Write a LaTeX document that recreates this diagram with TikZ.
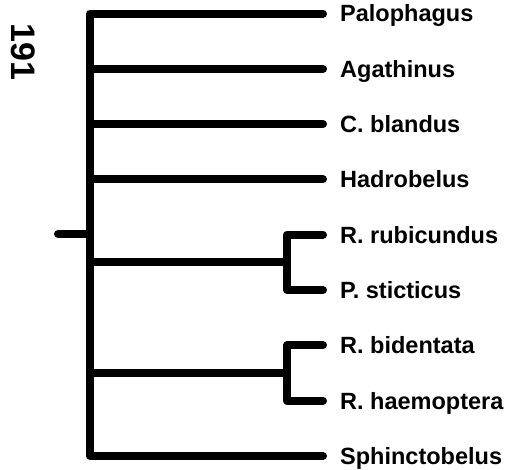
\documentclass[tikz,border=0pt]{standalone}
\usepackage{fontspec}
\setmainfont{Liberation Sans}
\usetikzlibrary{positioning}

\begin{document}
\begin{tikzpicture}[x=1pt, y=-1pt,
    branch/.style={line width=8pt, line cap=round, line join=round},
    taxon/.style={font=\fontsize{23.5}{28}\selectfont\bfseries, inner sep=0pt,
                  text height=16.8pt, text depth=0pt}]
    \useasboundingbox (0,0) rectangle (508,469);
    % inner nodes of the tree
    \coordinate (root)   at (90,234);
    \coordinate (stub)   at (58,234);
    \coordinate (cladeA) at (287,262);
    \coordinate (cladeB) at (287,373);
    % tips of the branches
    \coordinate (tPalo) at (323,13.5);
    \coordinate (tAgat) at (323,68.8);
    \coordinate (tBlan) at (323,124.1);
    \coordinate (tHadr) at (323,179.4);
    \coordinate (tRubi) at (323,234.7);
    \coordinate (tStic) at (323,290);
    \coordinate (tBide) at (323,345.3);
    \coordinate (tHaem) at (323,400.6);
    \coordinate (tSphi) at (323,456);
    % taxa
    \node[taxon, right=17pt of tPalo] (palo) {Palophagus};
    \node[taxon, right=17pt of tAgat] (agat) {Agathinus};
    \node[taxon, right=17pt of tBlan] (blan) {C. blandus};
    \node[taxon, right=17pt of tHadr] (hadr) {Hadrobelus};
    \node[taxon, right=17pt of tRubi] (rubi) {R. rubicundus};
    \node[taxon, right=17pt of tStic] (stic) {P. sticticus};
    \node[taxon, right=17pt of tBide] (bide) {R. bidentata};
    \node[taxon, right=17pt of tHaem] (haem) {R. haemoptera};
    \node[taxon, right=17pt of tSphi] (sphi) {Sphinctobelus};
    \node[font=\fontsize{34}{40}\selectfont\bfseries, rotate=-90] (num) at (23.5,52) {191};
    % branches
    \draw[branch] (stub) -- (root);
    \draw[branch] (tPalo) -| (root) |- (tSphi);
    \draw[branch] (root |- tAgat) -- (tAgat);
    \draw[branch] (root |- tBlan) -- (tBlan);
    \draw[branch] (root |- tHadr) -- (tHadr);
    \draw[branch] (root |- cladeA) -- (cladeA);
    \draw[branch] (tRubi) -| (cladeA) |- (tStic);
    \draw[branch] (root |- cladeB) -- (cladeB);
    \draw[branch] (tBide) -| (cladeB) |- (tHaem);
\end{tikzpicture}
\end{document}
